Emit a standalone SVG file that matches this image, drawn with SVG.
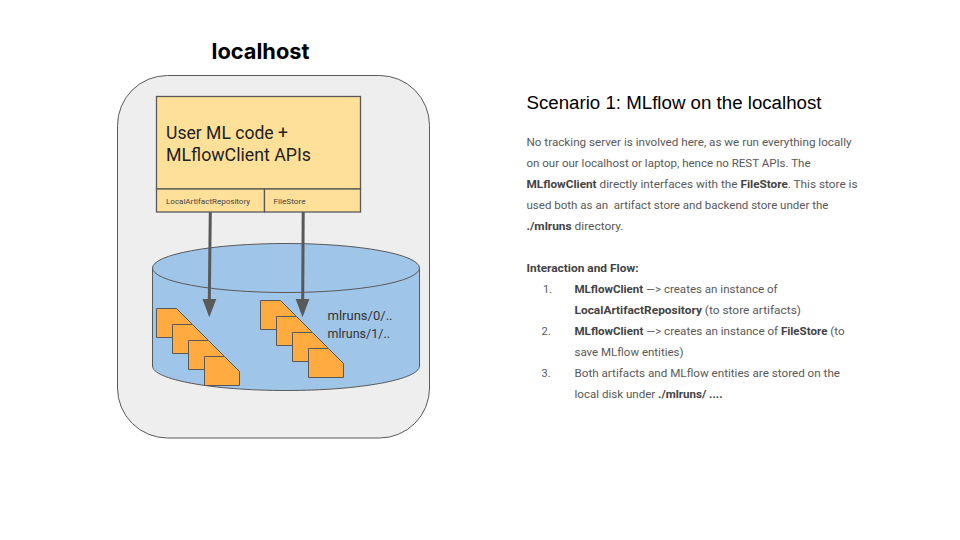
<svg xmlns="http://www.w3.org/2000/svg" width="960" height="540" viewBox="0 0 960 540">
<style>
text{font-family:"Inter","Roboto","Liberation Sans",sans-serif;fill:#000}
.box{fill:#ffe099;stroke:#595959;stroke-width:1.3}
.doc{fill:#ffab40;stroke:#595959;stroke-width:1}
.body{font-family:"Roboto","Liberation Sans",sans-serif;font-size:11px;fill:#595959}
.b{font-weight:700;fill:#434343}
.cy{fill:#9fc5e8;stroke:#595959;stroke-width:1}
.small{font-family:"Roboto","Liberation Sans",sans-serif;font-size:7.5px;fill:#434343}
.lab{font-family:"Roboto","Liberation Sans",sans-serif;font-size:13px;fill:#333}
.big{font-family:"Roboto","Liberation Sans",sans-serif;font-size:18px;fill:#222}
</style>
<defs><path id="d" d="M0 0H20L35 15V29H0Z" class="doc"/></defs>
<rect width="960" height="540" fill="#fff"/>
<text id="title" x="260.500" y="59" font-size="22" font-weight="700" text-anchor="middle" textLength="98" lengthAdjust="spacingAndGlyphs">localhost</text>
<g id="host"><rect x="117.500" y="75.500" width="312" height="362.500" rx="50" fill="#eeeeee" stroke="#595959" stroke-width="1"/></g>
<g id="disk">
<path class="cy" d="M152.500 268V366C152.500 379.500 212 390.500 286 390.500S419.500 379.500 419.500 366V268Z"/>
<ellipse class="cy" cx="286" cy="268" rx="133.500" ry="24.500"/>
</g>
<g id="code"><rect class="box" x="156.500" y="96.500" width="204" height="92.500"/>
<text class="big" x="166" y="139" textLength="122" lengthAdjust="spacingAndGlyphs">User ML code +</text>
<text class="big" x="166" y="160.500" textLength="145" lengthAdjust="spacingAndGlyphs">MLflowClient APIs</text></g>
<g id="local-repo"><rect class="box" x="156.500" y="189" width="108" height="23"/>
<text class="small" x="166" y="204" textLength="84" lengthAdjust="spacingAndGlyphs">LocalArtifactRepository</text></g>
<g id="filestore"><rect class="box" x="264.500" y="189" width="96" height="23"/>
<text class="small" x="273.500" y="204" textLength="32" lengthAdjust="spacingAndGlyphs">FileStore</text></g>
<g id="docs-left">
<use href="#d" x="156.500" y="308.500"/><use href="#d" x="172.500" y="324.500"/><use href="#d" x="188.500" y="340.500"/><use href="#d" x="204.500" y="356.500"/>
</g>
<g id="docs-right">
<use href="#d" x="260.500" y="300.500"/><use href="#d" x="276.500" y="316.500"/><use href="#d" x="292.500" y="332.500"/><use href="#d" x="308.500" y="348.500"/>
</g>
<g id="connectors">
<path d="M210.300 212L209.300 300" fill="none" stroke="#595959" stroke-width="3"/>
<path d="M202.500 299H216.300L209.300 317.300Z" fill="#595959"/>
<path d="M303.200 212L302.700 300" fill="none" stroke="#595959" stroke-width="3"/>
<path d="M295.700 299H309.400L302.500 317.300Z" fill="#595959"/>
</g>
<g id="runs">
<text class="lab" x="327.500" y="319.500" textLength="65" lengthAdjust="spacingAndGlyphs">mlruns/0/..</text>
<text class="lab" x="327.500" y="338" textLength="62.500" lengthAdjust="spacingAndGlyphs">mlruns/1/..</text>
</g>
<g id="description">
<text x="526.500" y="108.500" font-size="18" style="font-family:'Liberation Sans',sans-serif" textLength="295" lengthAdjust="spacingAndGlyphs">Scenario 1: MLflow on the localhost</text>
<text class="body" x="526.500" y="146" textLength="325" lengthAdjust="spacingAndGlyphs">No tracking server is involved here, as we run everything locally</text>
<text class="body" x="526.500" y="167" textLength="284" lengthAdjust="spacingAndGlyphs">on our our localhost or laptop, hence no REST APIs. The</text>
<text class="body" x="526.500" y="188" textLength="331" lengthAdjust="spacingAndGlyphs"><tspan class="b">MLflowClient</tspan> directly interfaces with the <tspan class="b">FileStore</tspan>. This store is</text>
<text class="body" x="526.500" y="209" textLength="302" lengthAdjust="spacingAndGlyphs" xml:space="preserve">used both as an  artifact store and backend store under the</text>
<text class="body" x="526.500" y="230" textLength="97" lengthAdjust="spacingAndGlyphs"><tspan class="b">./mlruns</tspan> directory.</text>
<text class="body" x="526.500" y="272" textLength="112" lengthAdjust="spacingAndGlyphs"><tspan class="b">Interaction and Flow:</tspan></text>
<text class="body" x="543" y="293">1.</text>
<text class="body" x="574.500" y="293" textLength="203" lengthAdjust="spacingAndGlyphs"><tspan class="b">MLflowClient</tspan> —&gt; creates an instance of</text>
<text class="body" x="574.500" y="314" textLength="226.500" lengthAdjust="spacingAndGlyphs"><tspan class="b">LocalArtifactRepository</tspan> (to store artifacts)</text>
<text class="body" x="541.500" y="335">2.</text>
<text class="body" x="574.500" y="335" textLength="270" lengthAdjust="spacingAndGlyphs"><tspan class="b">MLflowClient</tspan> —&gt; creates an instance of <tspan class="b">FileStore</tspan> (to</text>
<text class="body" x="574.500" y="356" textLength="109" lengthAdjust="spacingAndGlyphs">save MLflow entities)</text>
<text class="body" x="541.500" y="377">3.</text>
<text class="body" x="574.500" y="377" textLength="265.500" lengthAdjust="spacingAndGlyphs">Both artifacts and MLflow entities are stored on the</text>
<text class="body" x="574.500" y="398" textLength="148" lengthAdjust="spacingAndGlyphs">local disk under <tspan class="b">./mlruns/ ....</tspan></text>
</g>
</svg>
